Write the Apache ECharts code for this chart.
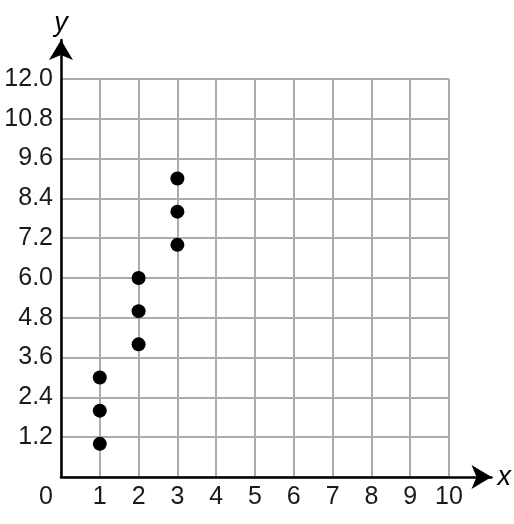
<!DOCTYPE html>
<html><head><meta charset="utf-8">
<script src="https://cdn.jsdelivr.net/npm/echarts@6/dist/echarts.min.js"></script>
<style>html,body{margin:0;padding:0;background:#fff}#c{width:514px;height:524px}</style>
</head><body><div id="c"></div>
<script>
const xTicks = [0,1,2,3,4,5,6,7,8,9,10];
const yTicks = [0,1.2,2.4,3.6,4.8,6.0,7.2,8.4,9.6,10.8,12.0];
const xValues = [1,1,1,2,2,2,3,3,3];
const yValues = [1,2,3,4,5,6,7,8,9];
const points = xValues.map((x,i)=>[x,yValues[i]]);

const font = 'Liberation Sans, Arial, sans-serif';
const chart = echarts.init(document.getElementById('c'));
chart.setOption({
  animation:false,
  grid:[
    {left:61,right:65,top:79,bottom:47},
    {left:61,right:21,top:40,bottom:47}
  ],
  xAxis:[
    {gridIndex:0,type:'value',min:xTicks[0],max:xTicks[xTicks.length-1],interval:1,
     axisLine:{show:false},axisTick:{show:false},
     splitLine:{show:true,lineStyle:{color:'#acacac',width:2}},
     axisLabel:{margin:8,fontSize:25,color:'#1a1a1a',fontFamily:font,showMinLabel:true,showMaxLabel:true,
       formatter:v=> v===0 ? '{z|0}' : String(v),
       rich:{z:{fontSize:25,color:'#1a1a1a',fontFamily:font,padding:[0,30,0,0]}}}},
    {gridIndex:1,type:'value',min:0,max:1,z:5,
     axisLine:{show:true,lineStyle:{color:'#000',width:2.5},symbol:['none','arrow'],symbolSize:[18,20]},
     axisTick:{show:false},axisLabel:{show:false},splitLine:{show:false},
     name:'x',nameLocation:'end',nameGap:6,nameTextStyle:{fontSize:27,fontStyle:'italic',color:'#000',fontFamily:font,verticalAlign:'middle'}}
  ],
  yAxis:[
    {gridIndex:0,type:'value',min:yTicks[0],max:yTicks[yTicks.length-1],interval:1.2,
     axisLine:{show:false},axisTick:{show:false},
     splitLine:{show:true,lineStyle:{color:'#acacac',width:2}},
     axisLabel:{margin:8,fontSize:25,color:'#1a1a1a',fontFamily:font,
       formatter:v=> v===0 ? '' : (Math.round(v*10)/10).toFixed(1)}},
    {gridIndex:1,type:'value',min:0,max:1,z:5,
     axisLine:{show:true,lineStyle:{color:'#000',width:2.5},symbol:['none','arrow'],symbolSize:[18,20]},
     axisTick:{show:false},axisLabel:{show:false},splitLine:{show:false},
     name:'y',nameLocation:'end',nameGap:3,nameTextStyle:{fontSize:27,fontStyle:'italic',color:'#000',fontFamily:font}}
  ],
  series:[{type:'scatter',xAxisIndex:0,yAxisIndex:0,data:points,symbol:'circle',symbolSize:14,
    itemStyle:{color:'#000',opacity:1},z:10}]
});
</script></body></html>
